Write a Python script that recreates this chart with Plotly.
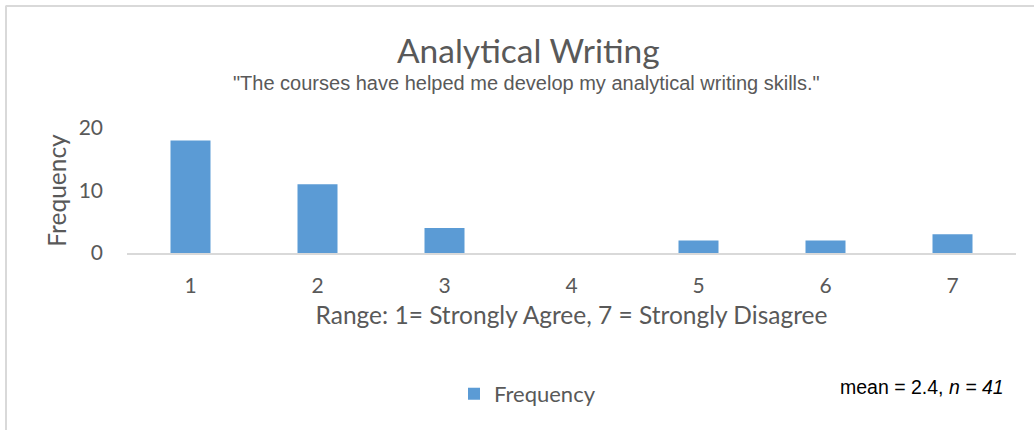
import plotly.graph_objects as go

categories = ["1", "2", "3", "4", "5", "6", "7"]
frequency = [18, 11, 4, 0, 2, 2, 3]
y_ticks = [0, 10, 20]

W, H = 1034, 430
L, R, T, B = 127, 18, 128, 176.5
pw = W - L - R
ph = H - T - B

def px_x(x):
    return (x - L) / pw

def px_y(y):
    return (H - B - y) / ph

BAR = "#5B9BD5"
TXT = "#595959"

fig = go.Figure()
fig.add_trace(go.Bar(x=categories, y=frequency, name="Frequency",
                     marker=dict(color=BAR, line=dict(width=0)),
                     showlegend=True))

fig.update_layout(
    width=W, height=H,
    margin=dict(l=L, r=R, t=T, b=B, autoexpand=False),
    paper_bgcolor="white", plot_bgcolor="white",
    bargap=0.685,
    font=dict(family="Lato", color=TXT),
    xaxis=dict(type="category", showline=True, linecolor="#D9D9D9", linewidth=2,
               ticks="", tickfont=dict(size=21, color=TXT, family="Lato"),
               ticklabelstandoff=13,
               showgrid=False, zeroline=False,
               title=dict(text="Range: 1= Strongly Agree, 7 = Strongly Disagree",
                          font=dict(size=24.5, color=TXT, family="Lato"), standoff=11)),
    yaxis=dict(range=[0, 20], tickvals=y_ticks, showgrid=False, zeroline=False,
               showline=False, ticks="", tickfont=dict(size=21, color=TXT, family="Lato"),
               ticklabelstandoff=23,
               title=dict(text="Frequency", font=dict(size=24.5, color=TXT, family="Lato"),
                          standoff=5)),
    showlegend=True,
    legend=dict(orientation="h", x=px_x(454), y=px_y(395), xanchor="left", yanchor="middle",
                font=dict(size=22, color=TXT, family="Lato"), itemwidth=30),
)

fig.add_annotation(text="Analytical Writing", xref="paper", yref="paper",
                   x=px_x(528), y=px_y(50), xanchor="center", yanchor="middle",
                   showarrow=False,
                   font=dict(size=33.5, color=TXT, family="Lato"))
fig.add_annotation(text='"The courses have helped me develop my analytical writing skills."',
                   xref="paper", yref="paper", x=px_x(526), y=px_y(83),
                   xanchor="center", yanchor="middle", showarrow=False,
                   font=dict(size=20, color=TXT, family="Liberation Sans"))
fig.add_annotation(text="mean = 2.4, <i>n = 41</i>", xref="paper", yref="paper",
                   x=px_x(1006), y=px_y(388), xanchor="right", yanchor="middle",
                   showarrow=False,
                   font=dict(size=19.5, color="#000000", family="Liberation Sans"))

# chart border (left and top edges visible)
fig.add_shape(type="line", xref="paper", yref="paper",
              x0=px_x(6), x1=px_x(6), y0=px_y(5), y1=px_y(H + 5),
              line=dict(color="#D9D9D9", width=2))
fig.add_shape(type="line", xref="paper", yref="paper",
              x0=px_x(6), x1=px_x(W + 5), y0=px_y(5.5), y1=px_y(5.5),
              line=dict(color="#D9D9D9", width=2))

fig.write_html("out.html", config={"displayModeBar": False},
               post_script="document.body.style.margin='0';")
